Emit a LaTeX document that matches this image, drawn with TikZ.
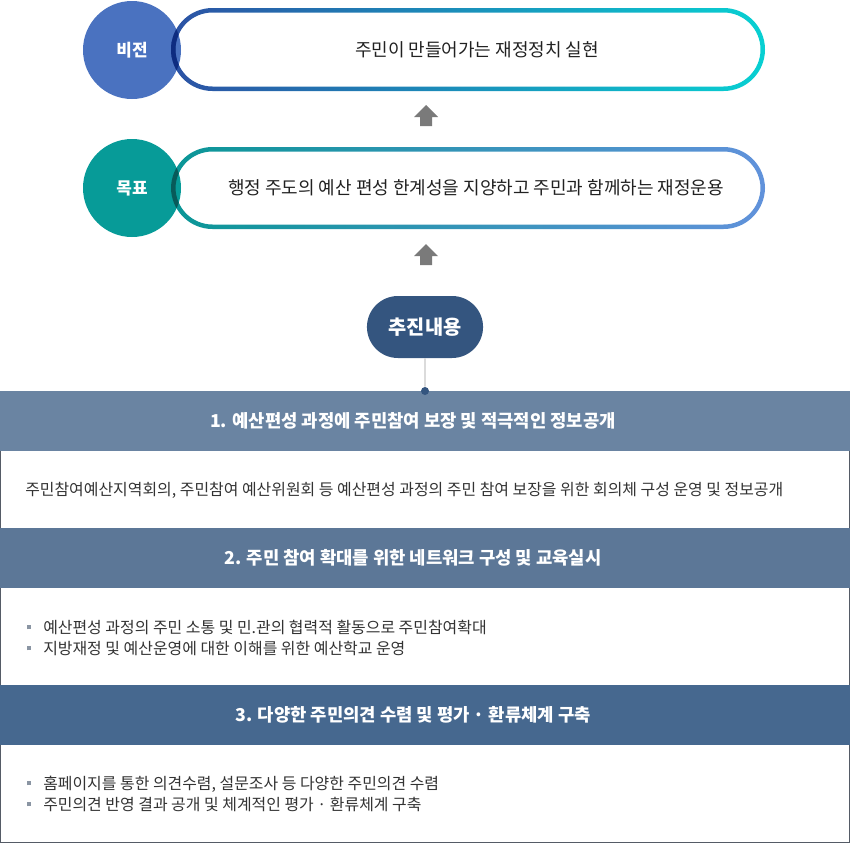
\documentclass[tikz,border=0pt]{standalone}
\usepackage{fontspec}
\setmainfont{Noto Sans CJK KR}
\usetikzlibrary{positioning,shapes.misc}

\definecolor{visionblue}{HTML}{4A72C0}
\definecolor{goalteal}{HTML}{079B98}
\definecolor{ringAleft}{HTML}{2C52A4}
\definecolor{ringAright}{HTML}{08D0D2}
\definecolor{ringAdark}{HTML}{0E2C80}
\definecolor{ringBleft}{HTML}{0A9696}
\definecolor{ringBright}{HTML}{6192DB}
\definecolor{ringBdark}{HTML}{085A5A}
\definecolor{planblue}{HTML}{34557F}
\definecolor{bandA}{HTML}{6A84A2}
\definecolor{bandB}{HTML}{5C7797}
\definecolor{bandC}{HTML}{46688F}
\definecolor{framegray}{HTML}{555B66}
\definecolor{bulletgray}{HTML}{8A95A3}

% ring of a pill, between y = #1 (top) and #2 (bottom)
\newcommand\pillring[2]{[rounded corners=31.1pt] (171,#1) rectangle (765,#2)
  [rounded corners=27.7pt] (175.5,#1-4.5) rectangle (760.5,#2+4.5)}
\newcommand\sqbullet{\textcolor{bulletgray}{\rule[2.8pt]{3pt}{3pt}}\hspace{9pt}}

\begin{document}
\begin{tikzpicture}[x=0.75pt,y=0.75pt,
  badge/.style={circle,minimum size=73.5pt,inner sep=0,text=white,
    font=\bfseries\fontsize{12.7}{15}\selectfont},
  pilltext/.style={text=black!87,font=\fontsize{13.5}{16}\selectfont},
  planpill/.style={rounded rectangle,fill=planblue,minimum width=93.75pt,
    minimum height=46.5pt,text=white,font=\bfseries\fontsize{14.8}{17}\selectfont},
  band/.style={rectangle,minimum width=637.5pt,minimum height=45pt,inner sep=0,
    fill=#1},
  bandtext/.style={text=white,font=\bfseries\fontsize{13.3}{16}\selectfont},
  body/.style={anchor=west,align=left,inner sep=0,text=black!80,
    font=\fontsize{11.95}{15.75}\selectfont}]
  \useasboundingbox (0,0) rectangle (850,-843);

  % vision and goal
  \node[badge,fill=visionblue] (vision) at (132,-50) {비전};
  \node[badge,fill=goalteal] (goal) at (132,-188) {목표};
  \shade[left color=ringAleft,right color=ringAright,even odd rule] \pillring{-8}{-91};
  \shade[left color=ringBleft,right color=ringBright,even odd rule] \pillring{-147}{-229};
  \begin{scope}
    \clip (vision.center) circle [radius=36.75pt];
    \fill[ringAdark,even odd rule] \pillring{-8}{-91};
  \end{scope}
  \begin{scope}
    \clip (goal.center) circle [radius=36.75pt];
    \fill[ringBdark,even odd rule] \pillring{-147}{-229};
  \end{scope}
  \node[pilltext] (visiontext) at (477,-50) {주민이 만들어가는 재정정치 실현};
  \node[pilltext] (goaltext) at (476,-188) {행정 주도의 예산 편성 한계성을 지양하고 주민과 함께하는 재정운용};

  \foreach \ay in {-105,-244}
    \fill[black!52] (426,\ay) -- ++(12,-12) -- ++(-6,0) -- ++(0,-9) -- ++(-12,0)
      -- ++(0,9) -- ++(-6,0) -- cycle;

  % contents
  \draw[framegray,line width=1pt] (0.65,-391) -- (0.65,-842.3) -- (849.35,-842.3) -- (849.35,-391);
  \node[band=bandA] (headA) at (425,-421) {};
  \node[band=bandB] (headB) at (425,-558) {};
  \node[band=bandC] (headC) at (425,-715) {};
  \node[bandtext] (titleA) at (413,-421) {1. 예산편성 과정에 주민참여 보장 및 적극적인 정보공개};
  \node[bandtext] (titleB) at (413,-558) {2. 주민 참여 확대를 위한 네트워크 구성 및 교육실시};
  \node[bandtext] (titleC) at (413,-715) {3. 다양한 주민의견 수렴 및 평가 · 환류체계 구축};
  \node[body] (itemA) at (25,-490) {주민참여예산지역회의, 주민참여 예산위원회 등 예산편성 과정의 주민 참여 보장을 위한 회의체 구성 운영 및 정보공개};
  \node[body] (itemB) at (27,-637.5) {\sqbullet 예산편성 과정의 주민 소통 및 민.관의 협력적 활동으로 주민참여확대\\
    \sqbullet 지방재정 및 예산운영에 대한 이해를 위한 예산학교 운영};
  \node[body] (itemC) at (27,-793.5) {\sqbullet 홈페이지를 통한 의견수렴, 설문조사 등 다양한 주민의견 수렴\\
    \sqbullet 주민의견 반영 결과 공개 및 체계적인 평가 · 환류체계 구축};

  \node[planpill] (plan) at (425,-327) {추진내용};
  \node[circle,fill=planblue,minimum size=6pt,inner sep=0] (joint) at (425,-391) {};
  \draw[black!22,line width=0.8pt] (plan) -- (joint);
\end{tikzpicture}
\end{document}
